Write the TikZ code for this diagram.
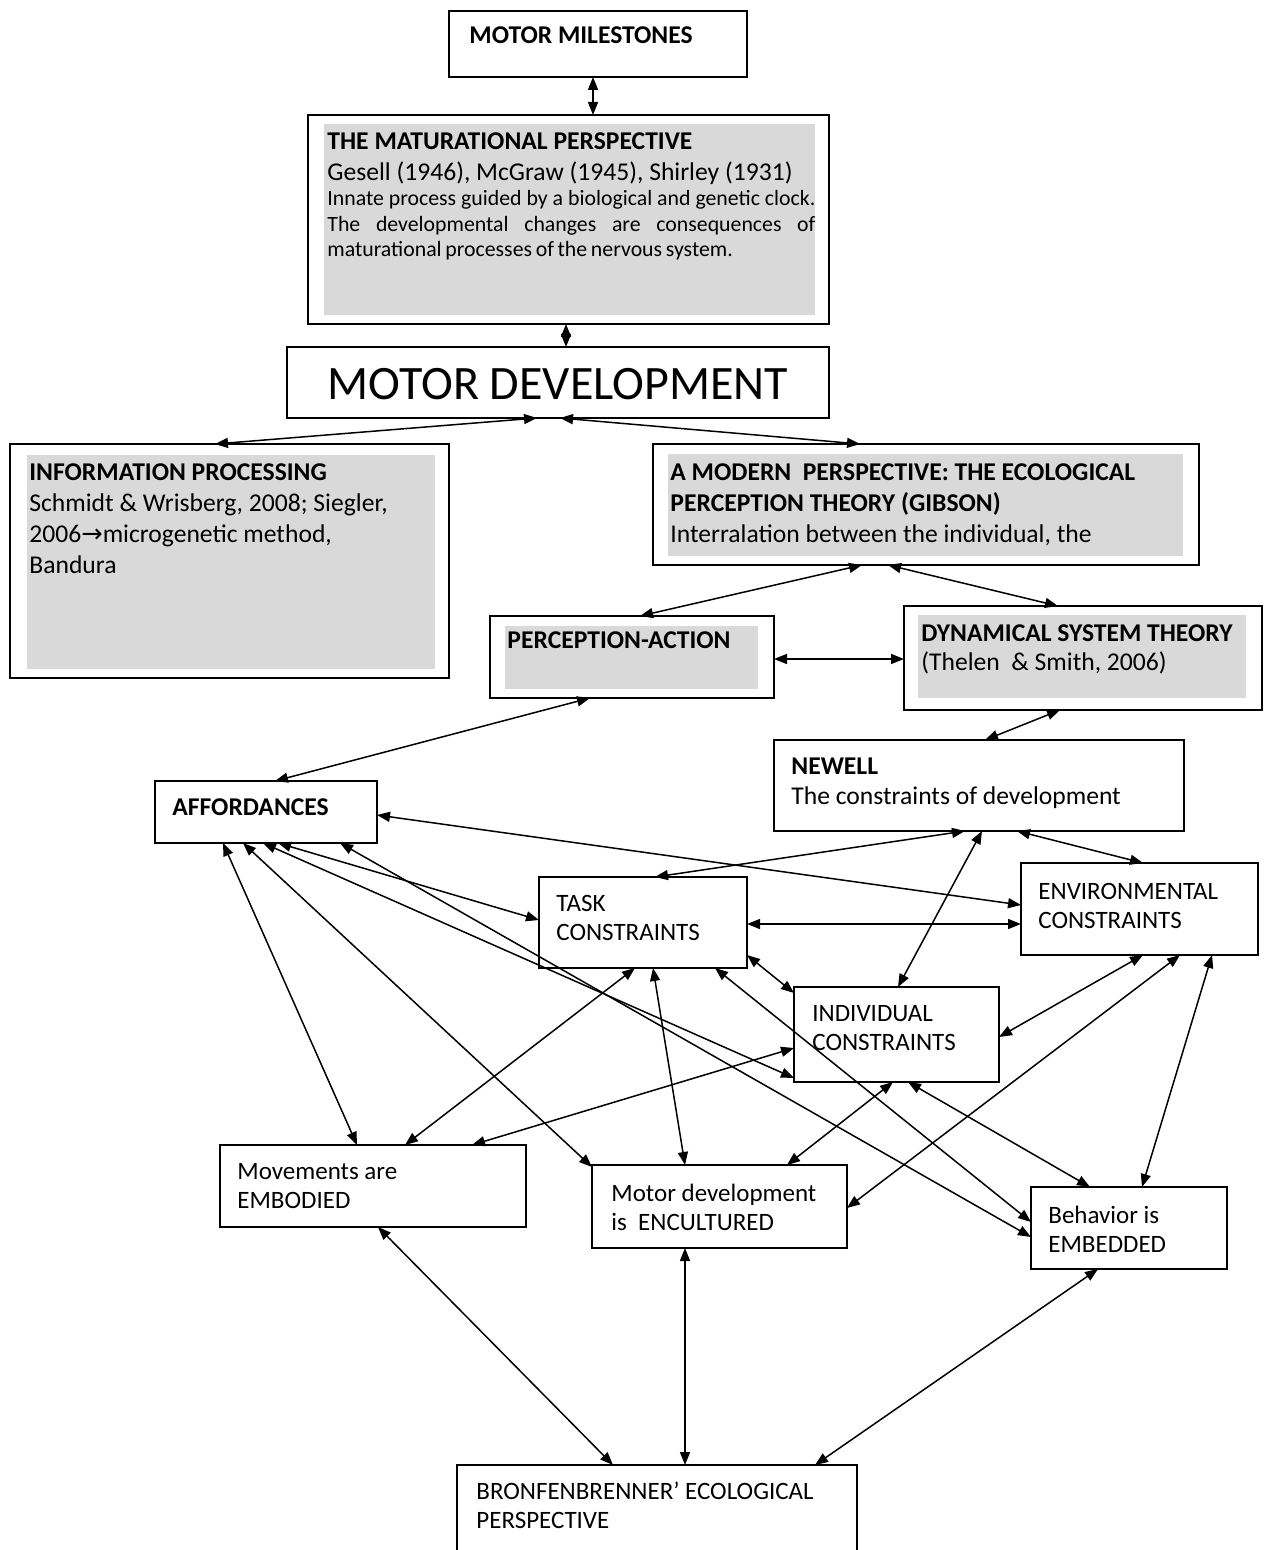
\documentclass[tikz,border=0pt]{standalone}
\usepackage{fontspec}
\setmainfont{Carlito}
\newfontfamily\symfont{DejaVu Sans}
\usetikzlibrary{arrows.meta,calc}
\definecolor{shadegray}{HTML}{D9D9D9}
\setlength{\parindent}{0pt}
\begin{document}
\begin{tikzpicture}[x=0.5pt,y=-0.5pt,
  box/.style={draw, line width=1pt, anchor=north west, inner sep=0pt, outer sep=0pt},
  conn/.style={line width=0.75pt, {Triangle[length=6.5pt,width=5pt]}-{Triangle[length=6.5pt,width=5pt]}},
  txt/.style={anchor=north west, inner sep=0pt, align=left, font=\fontsize{12.8}{15.5}\selectfont},
  txtb/.style={anchor=north west, inner sep=0pt, align=left, font=\fontsize{12.5}{14.5}\selectfont}]
\useasboundingbox (0,0) rectangle (1268,1550);

% boxes
\node[box, minimum width=149pt, minimum height=33pt] (mm) at (449,11) {};
\node[box, minimum width=260.5pt, minimum height=104.5pt] (mat) at (308,115) {};
\node[box, minimum width=271pt, minimum height=35.5pt] (md) at (287,347) {};
\node[box, minimum width=219.5pt, minimum height=117pt] (ip) at (10,444) {};
\node[box, minimum width=273pt, minimum height=60.5pt] (mod) at (653,444) {};
\node[box, minimum width=142pt, minimum height=41pt] (pa) at (490,616) {};
\node[box, minimum width=179pt, minimum height=52pt] (dst) at (904,606) {};
\node[box, minimum width=205pt, minimum height=45.5pt] (new) at (774,740) {};
\node[box, minimum width=111pt, minimum height=31pt] (aff) at (155,781) {};
\node[box, minimum width=104pt, minimum height=45.5pt] (task) at (539,877) {};
\node[box, minimum width=118.5pt, minimum height=46pt] (env) at (1021,863) {};
\node[box, minimum width=102.5pt, minimum height=47.5pt] (ind) at (794,987) {};
\node[box, minimum width=153pt, minimum height=41pt] (emb) at (220,1145) {};
\node[box, minimum width=127.5pt, minimum height=41.5pt] (enc) at (592,1165) {};
\node[box, minimum width=98pt, minimum height=41pt] (beh) at (1031,1187) {};
\node[box, minimum width=200pt, minimum height=60pt] (bron) at (457,1465) {};

% gray panels
\fill[shadegray] ($(mat.north west)+(16,9)$) rectangle ($(mat.south east)+(-14,-9)$);
\fill[shadegray] ($(ip.north west)+(17,11)$) rectangle ($(ip.south east)+(-14,-9)$);
\fill[shadegray] ($(mod.north west)+(15,10)$) rectangle ($(mod.south east)+(-16,-9)$);
\fill[shadegray] ($(pa.north west)+(15,10)$) rectangle ($(pa.south east)+(-16,-9)$);
\fill[shadegray] ($(dst.north west)+(14,9)$) rectangle ($(dst.south east)+(-16,-12)$);

% texts
\node[txt, font=\fontsize{12.8}{15.5}\selectfont\bfseries] (mm-t) at (469,21.3) {\strut MOTOR MILESTONES};
\node[anchor=north west, inner sep=0pt, text width=244pt, align=justify, font=\fontsize{12.8}{15.5}\selectfont] (mat-t) at (327,127.3)
  {\strut\textbf{THE MATURATIONAL PERSPECTIVE}\par
   Gesell (1946), McGraw (1945), Shirley (1931)\par
   \fontsize{10.9}{12.75}\selectfont\spaceskip=0.17em plus 1.5em minus 0.02em
   Innate process guided by a biological and genetic clock.\linebreak
   The developmental changes are consequences of\linebreak
   maturational processes of the nervous system.\par};
\node[anchor=base, inner sep=0pt, font=\fontsize{24}{28}\selectfont] (md-t) at (558,400) {MOTOR DEVELOPMENT};
\node[txt] (ip-t) at (29,458.3) {\strut\textbf{INFORMATION PROCESSING}\\Schmidt \& Wrisberg, 2008; Siegler,\\2006{\symfont →}microgenetic method,\\Bandura};
\node[txt] (mod-t) at (670,458.3) {\strut\textbf{A MODERN\ \ PERSPECTIVE: THE ECOLOGICAL}\\\textbf{PERCEPTION THEORY (GIBSON)}\\Interralation between the individual, the};
\node[txt] (pa-t) at (507,626.3) {\strut\textbf{PERCEPTION-ACTION}};
\node[txtb, font=\fontsize{12.8}{14.5}\selectfont] (dst-t) at (921,620.7) {\strut\textbf{DYNAMICAL SYSTEM THEORY}\\(Thelen\ \ \& Smith, 2006)};
\node[txt, font=\fontsize{12.8}{15}\selectfont] (new-t) at (791,753) {\strut\textbf{NEWELL}\\The constraints of development};
\node[txt] (aff-t) at (172,793.3) {\strut\textbf{AFFORDANCES}};
\node[txtb] (task-t) at (556,890.7) {\strut TASK\\CONSTRAINTS};
\node[txtb] (env-t) at (1038,878.7) {\strut ENVIRONMENTAL\\CONSTRAINTS};
\node[txtb] (ind-t) at (812,1000.7) {\strut INDIVIDUAL\\CONSTRAINTS};
\node[txtb] (emb-t) at (237,1158.7) {\strut Movements are\\EMBODIED};
\node[txtb] (enc-t) at (611,1180.7) {\strut Motor development\\is\ \ ENCULTURED};
\node[txtb] (beh-t) at (1048,1202.7) {\strut Behavior is\\EMBEDDED};
\node[txtb] (bron-t) at (476,1478.7) {\strut BRONFENBRENNER’ ECOLOGICAL\\PERSPECTIVE};

% connectors
\draw[conn] ($(mm.south west)+(144,0)$) -- ($(mat.north west)+(285,0)$);
\draw[conn] ($(mat.south west)+(258,0)$) -- ($(md.north west)+(279,0)$);
\draw[conn] ($(md.south west)+(250,0)$) -- ($(ip.north west)+(205,0)$);
\draw[conn] ($(md.south west)+(273,0)$) -- ($(mod.north west)+(207,0)$);
\draw[conn] ($(mod.south west)+(209,0)$) -- ($(pa.north west)+(150,0)$);
\draw[conn] ($(mod.south west)+(235,0)$) -- ($(dst.north west)+(154,0)$);
\draw[conn] ($(pa.north east)+(0,43)$) -- ($(dst.north west)+(0,53)$);
\draw[conn] ($(pa.south west)+(100,0)$) -- ($(aff.north west)+(120,0)$);
\draw[conn] ($(dst.south west)+(156,0)$) -- ($(new.north west)+(211,0)$);
\draw[conn] ($(aff.north east)+(0,34)$) -- ($(env.north west)+(0,42)$);
\draw[conn] ($(new.south west)+(191,0)$) -- ($(task.north west)+(116,0)$);
\draw[conn] ($(new.south west)+(208,0)$) -- ($(ind.north west)+(104,0)$);
\draw[conn] ($(new.south west)+(243,0)$) -- ($(env.north west)+(122,0)$);
\draw[conn] ($(task.north east)+(0,47)$) -- ($(env.north west)+(0,61)$);
\draw[conn] ($(task.north east)+(0,78)$) -- ($(ind.north west)+(0,6)$);
\draw[conn] ($(env.south west)+(122,0)$) -- ($(ind.north east)+(0,50)$);
\draw[conn] ($(env.south west)+(159,0)$) -- ($(enc.north east)+(0,43)$);
\draw[conn] ($(env.south west)+(191,0)$) -- ($(beh.north west)+(111,0)$);
\draw[conn] ($(ind.south west)+(99,0)$) -- ($(enc.north west)+(195,0)$);
\draw[conn] ($(ind.south west)+(114,0)$) -- ($(beh.north west)+(59,0)$);
\draw[conn] ($(ind.north west)+(0,61)$) -- ($(emb.north west)+(252,0)$);
\draw[conn] ($(task.south west)+(96,0)$) -- ($(emb.north west)+(185,0)$);
\draw[conn] ($(task.south west)+(114,0)$) -- ($(enc.north west)+(93,0)$);
\draw[conn] ($(task.south west)+(176,0)$) -- ($(beh.north west)+(0,35)$);
\draw[conn] ($(aff.south west)+(68,0)$) -- ($(emb.north west)+(137,0)$);
\draw[conn] ($(aff.south west)+(88,0)$) -- ($(enc.north west)+(0,2)$);
\draw[conn] ($(aff.south west)+(108,0)$) -- ($(ind.north west)+(0,91)$);
\draw[conn] ($(aff.south west)+(123,0)$) -- ($(task.north west)+(0,43)$);
\draw[conn] ($(aff.south west)+(185,0)$) -- ($(beh.north west)+(0,50)$);
\draw[conn] ($(emb.south west)+(158,0)$) -- ($(bron.north west)+(156,0)$);
\draw[conn] ($(enc.south west)+(93,0)$) -- ($(bron.north west)+(228,0)$);
\draw[conn] ($(beh.south west)+(67,0)$) -- ($(bron.north west)+(358,0)$);
\end{tikzpicture}
\end{document}
